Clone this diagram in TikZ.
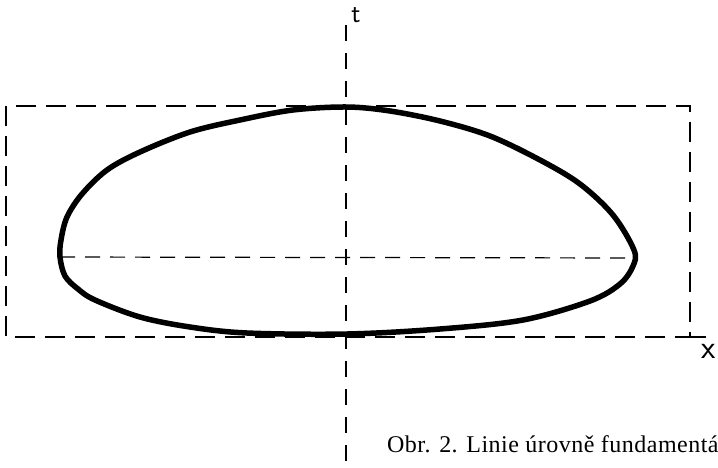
\documentclass[tikz,border=0pt]{standalone}
\usepackage{fontspec}
\setmainfont{Liberation Serif}
\newfontfamily\capfont[LetterSpace=2]{Liberation Serif}
\usetikzlibrary{calc,positioning}

\begin{document}
\begin{tikzpicture}[x=1pt,y=-1pt,
		frame/.style={dash pattern=on 20pt off 10pt, line width=1.6pt},
		axis/.style={dash pattern=on 16pt off 12pt, line width=1.2pt},
		level/.style={dash pattern=on 15pt off 10pt, line width=1.2pt},
		curve/.style={line width=5.5pt, line join=round, line cap=round},
		lbl/.style={inner sep=0pt, font=\sffamily\fontsize{27}{30}\selectfont}]
	\useasboundingbox (0,0) rectangle (718,467);

	% frame and axes
	\coordinate (R1) at (6,106);
	\coordinate (R2) at (690,337);
	\draw[frame] (R1) rectangle (R2);

	\coordinate (T0) at (346,25);
	\coordinate (T1) at (346,467);
	\draw[axis] (T0) -- (T1);

	\coordinate (X1) at (718,337);
	\draw[axis] (R2) -- (X1);

	\node[lbl] (t) at (356,15) {t};
	\node[lbl, font=\sffamily\fontsize{33}{36}\selectfont] (x) at (709,351) {x};

	% level line
	\coordinate (L) at (60,257);
	\coordinate (P) at (635,258);
	\draw[level] (L) -- (P);

	\draw[curve] plot[smooth cycle, tension=0.55] coordinates {
		(634,250) (613,215) (580,184) (540,160) (490,136) (440,121) (390,111)
		(347,107) (293,110) (240,120) (190,132) (140,152) (107,170) (82,194)
		(67,217) (61,240) (60,257) (65,276) (78,289) (95,300) (140,317)
		(190,327) (247,333) (347,334) (440,329) (523,320) (590,301) (620,284)
		(633,266)};

	\node[anchor=base west, inner sep=0pt, font=\capfont\fontsize{24}{28}\selectfont]
		(cap) at (387,452) {Obr. 2. Linie úrovně fundamentá};
\end{tikzpicture}
\end{document}
